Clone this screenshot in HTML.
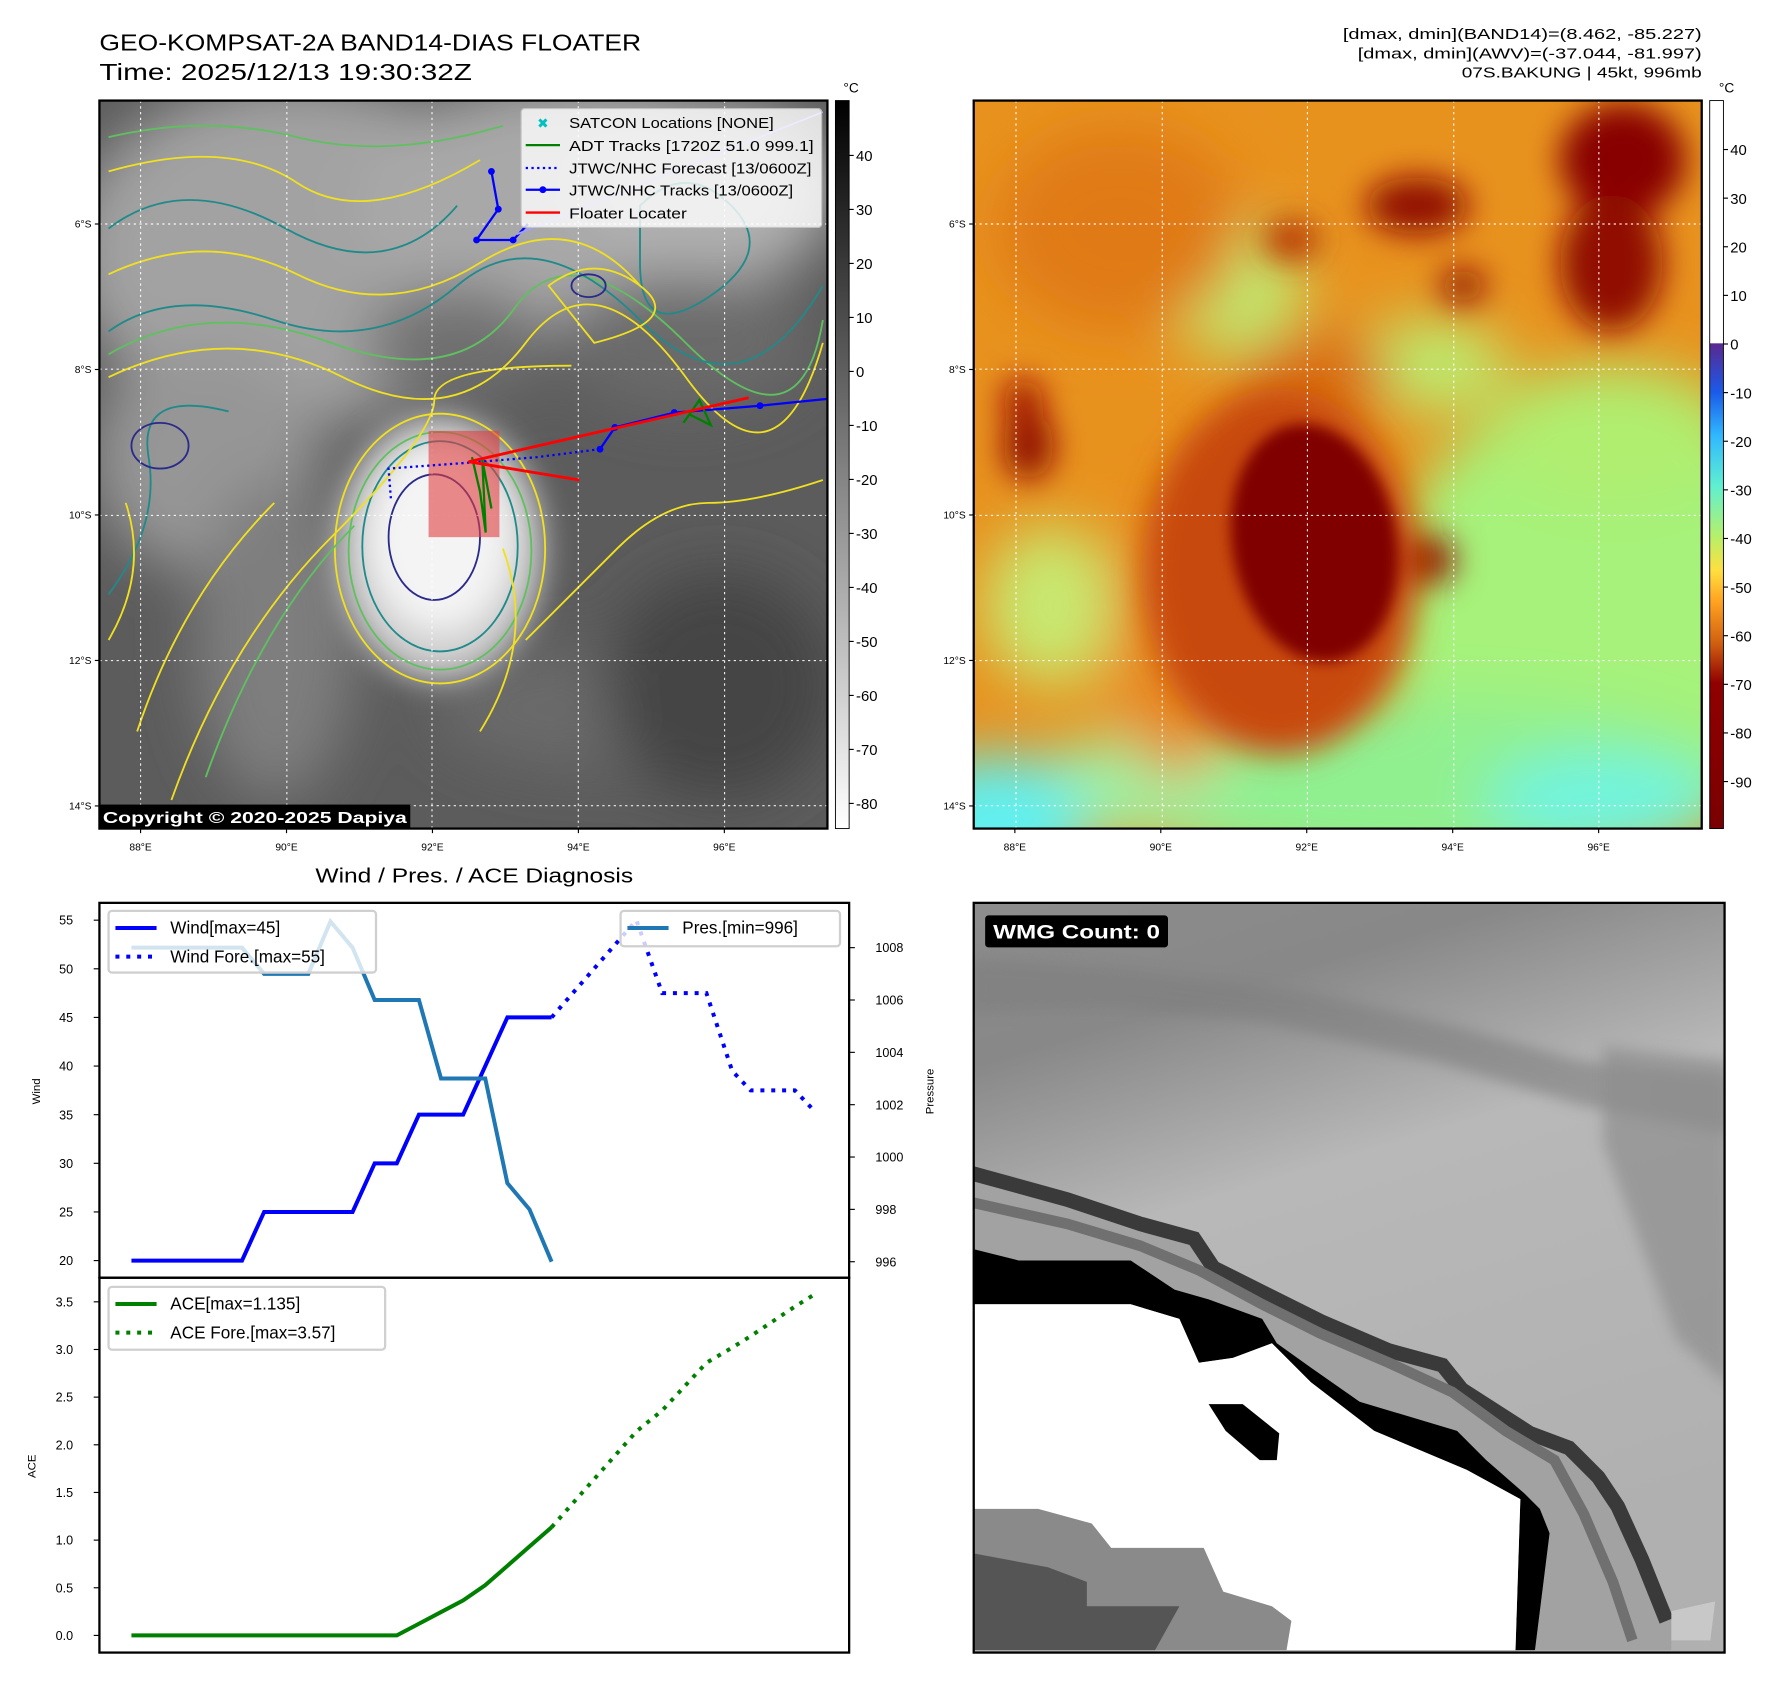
<!DOCTYPE html>
<html><head><meta charset="utf-8"><style>
html,body{margin:0;padding:0;background:#fff;}
svg{display:block;font-family:"Liberation Sans","DejaVu Sans",sans-serif;}
</style></head><body>
<svg id="root" width="1792" height="1690" viewBox="0 0 1568 1478.75" xmlns="http://www.w3.org/2000/svg">
<defs>
<filter id="b6" x="-50%" y="-50%" width="200%" height="200%"><feGaussianBlur stdDeviation="6"/></filter>
<filter id="b14" x="-50%" y="-50%" width="200%" height="200%"><feGaussianBlur stdDeviation="14"/></filter>
<filter id="b25" x="-50%" y="-50%" width="200%" height="200%"><feGaussianBlur stdDeviation="25"/></filter>
<clipPath id="c1"><rect x="87" y="88" width="637" height="637"/></clipPath>
<clipPath id="c2"><rect x="852" y="88" width="637" height="637"/></clipPath>
<clipPath id="c4"><rect x="852" y="790" width="657" height="656"/></clipPath>
<linearGradient id="g1" x1="0" y1="0" x2="0" y2="1">
<stop offset="0" stop-color="#000"/><stop offset="1" stop-color="#fff"/></linearGradient>
<linearGradient id="g2" x1="0" y1="0" x2="0" y2="1">
<stop offset="0" stop-color="#fff"/><stop offset="0.333" stop-color="#fff"/>
<stop offset="0.334" stop-color="#5a2890"/><stop offset="0.40" stop-color="#1a5ae8"/>
<stop offset="0.46" stop-color="#30b8ff"/><stop offset="0.53" stop-color="#60f0d0"/>
<stop offset="0.60" stop-color="#b8f068"/><stop offset="0.645" stop-color="#ffe040"/>
<stop offset="0.69" stop-color="#ffa020"/><stop offset="0.745" stop-color="#d06010"/>
<stop offset="0.80" stop-color="#900000"/><stop offset="1" stop-color="#7a0000"/></linearGradient>
<linearGradient id="g4" x1="0" y1="0" x2="0.3" y2="1">
<stop offset="0" stop-color="#8c8c8c"/><stop offset="0.2" stop-color="#888"/>
<stop offset="0.45" stop-color="#b8b8b8"/><stop offset="1" stop-color="#b0b0b0"/></linearGradient>
</defs>

<!-- titles -->
<text x="87" y="44" font-size="20" textLength="474" lengthAdjust="spacingAndGlyphs">GEO-KOMPSAT-2A BAND14-DIAS FLOATER</text>
<text x="87" y="70" font-size="20" textLength="326" lengthAdjust="spacingAndGlyphs">Time: 2025/12/13 19:30:32Z</text>
<text x="1489" y="34" font-size="13" text-anchor="end" textLength="314" lengthAdjust="spacingAndGlyphs">[dmax, dmin](BAND14)=(8.462, -85.227)</text>
<text x="1489" y="51" font-size="13" text-anchor="end" textLength="301" lengthAdjust="spacingAndGlyphs">[dmax, dmin](AWV)=(-37.044, -81.997)</text>
<text x="1489" y="68" font-size="13" text-anchor="end" textLength="210" lengthAdjust="spacingAndGlyphs">07S.BAKUNG | 45kt, 996mb</text>

<!-- MAP 1 -->
<g clip-path="url(#c1)">
<rect x="87" y="88" width="637" height="637" fill="#5c5c5c"/>
<g filter="url(#b25)">
<ellipse cx="260" cy="220" rx="200" ry="150" fill="#a2a2a2"/>
<ellipse cx="500" cy="180" rx="190" ry="110" fill="#a8a8a8"/>
<ellipse cx="620" cy="170" rx="110" ry="80" fill="#b0b0b0"/>
<ellipse cx="180" cy="400" rx="100" ry="100" fill="#969696"/>
<ellipse cx="400" cy="300" rx="80" ry="50" fill="#707070"/>
<ellipse cx="240" cy="560" rx="70" ry="140" fill="#7e7e7e"/>
<ellipse cx="520" cy="620" rx="140" ry="50" fill="#6a6a6a"/>
<ellipse cx="630" cy="600" rx="100" ry="100" fill="#454545"/>
<ellipse cx="600" cy="300" rx="110" ry="60" fill="#6a6a6a"/>
</g>
<g filter="url(#b14)">
<ellipse cx="385" cy="480" rx="90" ry="115" fill="#d0d0d0"/>
<ellipse cx="385" cy="470" rx="62" ry="82" fill="#f4f4f4"/>
</g>
<g fill="none" stroke-width="1.6">
<ellipse cx="385" cy="480" rx="92" ry="118" stroke="#f0e020"/>
<ellipse cx="385" cy="482" rx="80" ry="104" stroke="#60c060"/>
<ellipse cx="385" cy="478" rx="68" ry="92" stroke="#208a8a"/>
<ellipse cx="380" cy="470" rx="40" ry="55" stroke="#2a2a8a"/>
<path d="M95 330 Q200 280 300 330 T460 300 T600 330 T720 300" stroke="#f0e020"/>
<path d="M95 310 Q180 260 290 300 T450 270 T600 300 T720 280" stroke="#60c060"/>
<path d="M95 290 Q150 250 240 280 T400 250 T560 280 T720 250" stroke="#208a8a"/>
<path d="M95 200 Q160 150 250 200 T400 180" stroke="#208a8a"/>
<path d="M95 240 Q180 200 260 240 T420 230 T560 250" stroke="#f0e020"/>
<path d="M95 150 Q200 120 260 160 T420 140" stroke="#f0e020"/>
<path d="M95 120 Q180 100 260 120 T440 110" stroke="#60c060"/>
<path d="M150 700 Q200 560 290 470 T380 350 T500 320" stroke="#f0e020"/>
<path d="M180 680 Q230 540 310 460" stroke="#60c060"/>
<path d="M120 640 Q160 520 240 440" stroke="#f0e020"/>
<path d="M420 640 Q470 560 440 480" stroke="#f0e020"/>
<path d="M460 560 Q500 520 540 480 T620 440 T720 420" stroke="#f0e020"/>
<path d="M95 520 Q140 460 130 400 T200 360" stroke="#208a8a"/>
<path d="M95 560 Q130 500 110 440" stroke="#f0e020"/>
<path d="M560 180 Q600 140 640 180 T620 260 T560 230Z" stroke="#208a8a"/>
<path d="M480 250 Q520 220 560 250 T520 300Z" stroke="#f0e020"/>
<ellipse cx="140" cy="390" rx="25" ry="20" stroke="#2a2a8a"/>
<ellipse cx="515" cy="250" rx="15" ry="10" stroke="#2a2a8a"/>
</g>
<g stroke="#fff" stroke-width="1" stroke-dasharray="2,3" opacity="0.9">
<line x1="123" y1="88" x2="123" y2="725"/><line x1="251" y1="88" x2="251" y2="725"/>
<line x1="378" y1="88" x2="378" y2="725"/><line x1="506" y1="88" x2="506" y2="725"/>
<line x1="634" y1="88" x2="634" y2="725"/>
<line x1="87" y1="196" x2="724" y2="196"/><line x1="87" y1="323" x2="724" y2="323"/>
<line x1="87" y1="451" x2="724" y2="451"/><line x1="87" y1="578" x2="724" y2="578"/>
<line x1="87" y1="705" x2="724" y2="705"/>
</g>
<rect x="375" y="377" width="62" height="93" fill="#e04040" opacity="0.6"/>
<polyline points="724,349 665,355 590,361 538,374 525,393" fill="none" stroke="#0000ff" stroke-width="2"/>
<polyline points="430,150 436,183 417,210 449,210 462,196" fill="none" stroke="#0000ff" stroke-width="2"/>
<g fill="#0000ff"><circle cx="665" cy="355" r="3"/><circle cx="590" cy="361" r="3"/><circle cx="538" cy="374" r="3"/><circle cx="525" cy="393" r="3"/><circle cx="430" cy="150" r="3"/><circle cx="436" cy="183" r="3"/><circle cx="417" cy="210" r="3"/><circle cx="449" cy="210" r="3"/></g>
<polyline points="525,393 470,400 408,405 340,410 342,436" fill="none" stroke="#0000ff" stroke-width="2" stroke-dasharray="2,3"/>
<line x1="720" y1="98" x2="452" y2="205" stroke="#a0a0ff" stroke-width="1.5"/>
<polyline points="413,400 420,430 425,466 422,402 430,445" fill="none" stroke="#008000" stroke-width="2"/>
<polyline points="598,370 612,350 622,372 604,363" fill="none" stroke="#008000" stroke-width="2"/>
<polyline points="507,420 410,404 655,348" fill="none" stroke="#ff0000" stroke-width="2.5"/>
<rect x="87" y="704" width="272" height="21" fill="#000"/>
<text x="90" y="720" font-size="14" font-weight="bold" fill="#fff" textLength="266" lengthAdjust="spacingAndGlyphs">Copyright © 2020-2025 Dapiya</text>
</g>
<rect x="87" y="88" width="637" height="637" fill="none" stroke="#000" stroke-width="2"/>
<g>
<rect x="456" y="95" width="263" height="104" rx="3" fill="#fff" opacity="0.8" stroke="#ccc"/>
<text x="470" y="112" font-size="12" fill="#00c0c0" font-weight="bold">✖</text>
<line x1="460" y1="127" x2="490" y2="127" stroke="#008000" stroke-width="2"/>
<line x1="460" y1="147" x2="490" y2="147" stroke="#0000ff" stroke-width="2" stroke-dasharray="2,3"/>
<line x1="460" y1="166" x2="490" y2="166" stroke="#0000ff" stroke-width="2"/><circle cx="475" cy="166" r="3" fill="#0000ff"/>
<line x1="460" y1="186" x2="490" y2="186" stroke="#ff0000" stroke-width="2"/>
<g font-size="13">
<text x="498" y="112" textLength="179" lengthAdjust="spacingAndGlyphs">SATCON Locations [NONE]</text>
<text x="498" y="132" textLength="214" lengthAdjust="spacingAndGlyphs">ADT Tracks [1720Z 51.0 999.1]</text>
<text x="498" y="152" textLength="212" lengthAdjust="spacingAndGlyphs">JTWC/NHC Forecast [13/0600Z]</text>
<text x="498" y="171" textLength="196" lengthAdjust="spacingAndGlyphs">JTWC/NHC Tracks [13/0600Z]</text>
<text x="498" y="191" textLength="103" lengthAdjust="spacingAndGlyphs">Floater Locater</text>
</g></g>
<rect x="731" y="88" width="12" height="637" fill="url(#g1)" stroke="#000" stroke-width="0.8"/>
<text x="738" y="81" font-size="12">°C</text>
<g id="cb1" font-size="13"></g>

<!-- MAP 2 -->
<g clip-path="url(#c2)">
<rect x="852" y="88" width="637" height="637" fill="#e8921e"/>
<g filter="url(#b25)">
<ellipse cx="1400" cy="540" rx="190" ry="200" fill="#a6f27a"/>
<ellipse cx="1250" cy="690" rx="280" ry="80" fill="#90f090"/>
<ellipse cx="1410" cy="380" rx="110" ry="60" fill="#b0ee70"/>
<ellipse cx="1080" cy="250" rx="60" ry="60" fill="#c0ea70"/>
<ellipse cx="1250" cy="320" rx="70" ry="40" fill="#bcec70"/>
<ellipse cx="920" cy="530" rx="60" ry="70" fill="#c8e870"/>
<ellipse cx="990" cy="690" rx="90" ry="45" fill="#a0f0a0"/>
<ellipse cx="870" cy="720" rx="80" ry="60" fill="#60f0f0"/>
<ellipse cx="1400" cy="700" rx="100" ry="40" fill="#70f4e0"/>
<ellipse cx="980" cy="200" rx="110" ry="90" fill="#e07a18"/>
<ellipse cx="1030" cy="560" rx="60" ry="120" fill="#e88a20"/>
<ellipse cx="1150" cy="330" rx="70" ry="40" fill="#d86a10"/>
</g>
<g filter="url(#b14)">
<ellipse cx="1420" cy="140" rx="55" ry="50" fill="#880000"/>
<ellipse cx="1410" cy="230" rx="45" ry="60" fill="#900800"/>
<ellipse cx="1240" cy="180" rx="45" ry="25" fill="#900800"/>
<ellipse cx="1280" cy="250" rx="20" ry="15" fill="#900800"/>
<ellipse cx="1130" cy="210" rx="25" ry="18" fill="#b83000"/>
<ellipse cx="900" cy="390" rx="22" ry="30" fill="#900800"/>
<ellipse cx="895" cy="350" rx="18" ry="18" fill="#a01000"/>
<ellipse cx="1245" cy="490" rx="28" ry="22" fill="#900800"/>
<ellipse cx="1120" cy="500" rx="120" ry="160" fill="#c84a0c"/>
</g>
<g filter="url(#b6)">
<ellipse cx="1150" cy="475" rx="72" ry="105" transform="rotate(-10 1150 475)" fill="#800000"/>
</g>
<g stroke="#fff" stroke-width="1" stroke-dasharray="2,3" opacity="0.9">
<line x1="889" y1="88" x2="889" y2="725"/><line x1="1017" y1="88" x2="1017" y2="725"/>
<line x1="1144" y1="88" x2="1144" y2="725"/><line x1="1272" y1="88" x2="1272" y2="725"/>
<line x1="1399" y1="88" x2="1399" y2="725"/>
<line x1="852" y1="196" x2="1489" y2="196"/><line x1="852" y1="323" x2="1489" y2="323"/>
<line x1="852" y1="451" x2="1489" y2="451"/><line x1="852" y1="578" x2="1489" y2="578"/>
<line x1="852" y1="705" x2="1489" y2="705"/>
</g>
</g>
<rect x="852" y="88" width="637" height="637" fill="none" stroke="#000" stroke-width="2"/>
<rect x="1496" y="88" width="12" height="637" fill="url(#g2)" stroke="#000" stroke-width="0.8"/>
<text x="1504" y="81" font-size="12">°C</text>
<g id="cb2" font-size="13"></g>
<g id="mapaxes" font-size="9"></g>

<!-- PANEL 4 -->
<g clip-path="url(#c4)">
<rect x="852" y="790" width="657" height="656" fill="url(#g4)"/>
<g transform="translate(848.7,787.5) scale(0.4262)">
<path d="M0 120 L300 140 L700 190 L1000 260 L1250 330 L1560 360 L1560 480 L1250 420 L950 330 L600 250 L300 220 L0 230Z" fill="#7e7e7e" opacity="0.6" filter="url(#b14)"/>
<path d="M1300 300 L1560 330 L1560 1000 L1450 900 L1300 500Z" fill="#8e8e8e" opacity="0.7" filter="url(#b14)"/>
<path d="M0 540 L200 600 L350 650 L460 680 L500 740 L600 790 L720 850 L860 910 L970 940 L1010 990 L1150 1080 L1230 1110 L1290 1170 L1330 1230 L1380 1340 L1440 1460 L1440 1540 L1160 1540 L1190 1300 L1160 1240 L1060 1150 L1000 1090 L800 1030 L700 960 L630 910 L600 860 L490 820 L420 800 L330 740 L100 740 L0 715Z" fill="#a2a2a2"/>
<polyline points="0,560 200,615 350,665 460,695 500,755 600,805 720,865 860,925 970,955 1010,1005 1150,1095 1230,1125 1290,1185 1330,1245 1380,1355 1430,1480" fill="none" stroke="#3a3a3a" stroke-width="30"/>
<polyline points="0,620 200,665 350,710 470,760 600,830 720,890 860,950 990,1010 1100,1090 1200,1150 1260,1260 1320,1400 1360,1520" fill="none" stroke="#707070" stroke-width="22"/>
<path d="M0 715 L100 740 L330 740 L420 800 L490 820 L600 860 L630 910 L700 960 L800 1030 L1000 1090 L1060 1150 L1140 1220 L1170 1250 L1190 1300 L1160 1540 L1120 1540 L1130 1230 L1020 1170 L830 1090 L700 990 L620 910 L540 940 L470 950 L430 860 L330 830 L0 830Z" fill="#000"/>
<path d="M0 830 L330 830 L430 860 L470 950 L540 940 L620 910 L700 990 L830 1090 L1020 1170 L1130 1230 L1120 1540 L0 1540Z" fill="#fff"/>
<path d="M490 1035 L560 1035 L635 1095 L630 1150 L595 1150 L525 1090 Z" fill="#000"/>
<path d="M0 1250 L140 1250 L250 1280 L290 1330 L480 1330 L520 1420 L620 1450 L660 1480 L650 1540 L0 1540Z" fill="#8a8a8a"/>
<path d="M0 1340 L160 1370 L240 1400 L240 1450 L430 1450 L380 1540 L0 1540Z" fill="#555"/>
<path d="M1440 1460 L1530 1440 L1520 1520 L1440 1520Z" fill="#c8c8c8"/>
</g>
<rect x="862" y="801" width="160" height="28" rx="3" fill="#000"/>
<text x="869" y="821" font-size="17" font-weight="bold" fill="#fff" textLength="146" lengthAdjust="spacingAndGlyphs">WMG Count: 0</text>
</g>
<rect x="852" y="790" width="657" height="656" fill="none" stroke="#000" stroke-width="2"/>

<!-- CHART -->
<text x="415" y="772" font-size="18" text-anchor="middle" textLength="278" lengthAdjust="spacingAndGlyphs">Wind / Pres. / ACE Diagnosis</text>
<g id="chart"></g>
</svg>
<script>
// ---- chart data ----
var obsHours = [0,6,12,18,24,30,36,42,48,54,60,66,72,78,84,90,96,102,108,114];
var windObs = [20,20,20,20,20,20,25,25,25,25,25,30,30,35,35,35,40,45,45,45];
var presObs = [1008,1008,1008,1008,1008,1008,1007,1007,1007,1009,1008,1006,1006,1006,1003,1003,1003,999,998,996];
var aceObs = [0,0,0,0,0,0,0,0,0,0,0,0,0,0.1225,0.245,0.3675,0.5275,0.73,0.9325,1.135];
var foreHours = [114,137,144,156,163,168,180,185];
var windFore = [45,55,47.5,47.5,39.5,37.5,37.5,35.5];
var aceFore = [1.135,2.14,2.36,2.86,3.02,3.14,3.45,3.57];
var windTicks = [20,25,30,35,40,45,50,55];
var presTicks = [996,998,1000,1002,1004,1006,1008];
var aceTicks = [0,0.5,1,1.5,2,2.5,3,3.5];
var cb1Ticks = [40,30,20,10,0,-10,-20,-30,-40,-50,-60,-70,-80];
var cb2Ticks = [40,30,20,10,0,-10,-20,-30,-40,-50,-60,-70,-80,-90];
var latLabels = ['6°S','8°S','10°S','12°S','14°S'];
var lonLabels = ['88°E','90°E','92°E','94°E','96°E'];

var NS = 'http://www.w3.org/2000/svg';
function mk(tag, attrs, parent, txt) {
  var e = document.createElementNS(NS, tag);
  for (var k in attrs) e.setAttribute(k, attrs[k]);
  if (txt !== undefined) e.textContent = txt;
  parent.appendChild(e);
  return e;
}
var xS = function (h) { return 115 + h * 3.225; };
var yW = function (v) { return 1103 - (v - 20) * 8.51; };
var yP = function (p) { return 1104 - (p - 996) * 22.9; };
var yA = function (a) { return 1431 - a * 83.4; };
var ch = document.getElementById('chart');
function pts(xs, ys, f) { return xs.map(function (h, i) { return xS(h) + ',' + f(ys[i]); }).join(' '); }

var fr1 = mk('rect', {x:87, y:790, width:656, height:328, fill:'none', stroke:'#000', 'stroke-width':2}, ch);


var fr2 = mk('rect', {x:87, y:1118, width:656, height:328, fill:'none', stroke:'#000', 'stroke-width':2}, ch);



windTicks.forEach(function (v) {
  mk('line', {x1:82, x2:87, y1:yW(v), y2:yW(v), stroke:'#000'}, ch);
  var t = mk('text', {x:64, y:yW(v) + 4, 'font-size':11, 'text-anchor':'end'}, ch, v);
  
  
});
presTicks.forEach(function (v) {
  mk('line', {x1:743, x2:748, y1:yP(v), y2:yP(v), stroke:'#000'}, ch);
  var t = mk('text', {x:766, y:yP(v) + 4, 'font-size':11}, ch, v);
  
  
});
aceTicks.forEach(function (v) {
  mk('line', {x1:82, x2:87, y1:yA(v), y2:yA(v), stroke:'#000'}, ch);
  var t = mk('text', {x:64, y:yA(v) + 4, 'font-size':11, 'text-anchor':'end'}, ch, v.toFixed(1));
  
  
});
var yl1 = mk('text', {x:0, y:0, 'font-size':10, 'text-anchor':'middle', transform:'translate(35,955) rotate(-90)'}, ch, 'Wind');


var yl2 = mk('text', {x:0, y:0, 'font-size':10, 'text-anchor':'middle', transform:'translate(817,955) rotate(-90)'}, ch, 'Pressure');


var yl3 = mk('text', {x:0, y:0, 'font-size':10, 'text-anchor':'middle', transform:'translate(31,1283) rotate(-90)'}, ch, 'ACE');



var l1 = mk('polyline', {points:pts(obsHours, windObs, yW), fill:'none', stroke:'#0000ff', 'stroke-width':3.5}, ch);


var l2 = mk('polyline', {points:pts(foreHours, windFore, yW), fill:'none', stroke:'#0000ff', 'stroke-width':3.5, 'stroke-dasharray':'3.5,6'}, ch);


var l3 = mk('polyline', {points:pts(obsHours, presObs, yP), fill:'none', stroke:'#1f77b4', 'stroke-width':3.5}, ch);


var l4 = mk('polyline', {points:pts(obsHours, aceObs, yA), fill:'none', stroke:'#008000', 'stroke-width':3.5}, ch);


var l5 = mk('polyline', {points:pts(foreHours, aceFore, yA), fill:'none', stroke:'#008000', 'stroke-width':3.5, 'stroke-dasharray':'3.5,6'}, ch);



function legend(x, y, w, h, items, name) {
  var g = mk('g', {}, ch);
  
  
  mk('rect', {x:x, y:y, width:w, height:h, rx:3, fill:'#fff', 'fill-opacity':0.8, stroke:'#d0d0d0', 'stroke-width':2}, g);
  items.forEach(function (it, i) {
    var cy = y + 15 + i * 25;
    var a = {x1:x + 6, x2:x + 42, y1:cy, y2:cy, stroke:it[1], 'stroke-width':3.5};
    if (it[2]) a['stroke-dasharray'] = '3.5,6';
    mk('line', a, g);
    mk('text', {x:x + 54, y:cy + 5, 'font-size':15}, g, it[0]);
  });
}
legend(95, 797, 234, 54, [['Wind[max=45]', '#0000ff', 0], ['Wind Fore.[max=55]', '#0000ff', 1]], 'wind-legend');
legend(543, 797, 192, 31, [['Pres.[min=996]', '#1f77b4', 0]], 'pressure-legend');
legend(95, 1126, 242, 55, [['ACE[max=1.135]', '#008000', 0], ['ACE Fore.[max=3.57]', '#008000', 1]], 'ace-legend');

var cb1 = document.getElementById('cb1');
cb1Ticks.forEach(function (v) {
  var y = 325 - v * 4.725;
  mk('line', {x1:743, x2:747, y1:y, y2:y, stroke:'#000'}, cb1);
  var t = mk('text', {x:749, y:y + 5}, cb1, v);
  
  
});
var cb2 = document.getElementById('cb2');
cb2Ticks.forEach(function (v) {
  var y = 301 - v * 4.254;
  mk('line', {x1:1508, x2:1512, y1:y, y2:y, stroke:'#000'}, cb2);
  var t = mk('text', {x:1514, y:y + 5}, cb2, v);
  
  
});
var ma = document.getElementById('mapaxes');
[0, 765].forEach(function (dx) {
  latLabels.forEach(function (s, i) {
    var y = 196 + i * 127.3;
    mk('line', {x1:83 + dx, x2:87 + dx, y1:y, y2:y, stroke:'#000'}, ma);
    var t = mk('text', {x:80 + dx, y:y + 3, 'text-anchor':'end'}, ma, s);
    
    
  });
  lonLabels.forEach(function (s, i) {
    var x = 123 + dx + i * 127.7;
    mk('line', {x1:x, x2:x, y1:725, y2:729, stroke:'#000'}, ma);
    var t = mk('text', {x:x, y:744, 'text-anchor':'middle'}, ma, s);
    
    
  });
});
</script>
</body></html>
